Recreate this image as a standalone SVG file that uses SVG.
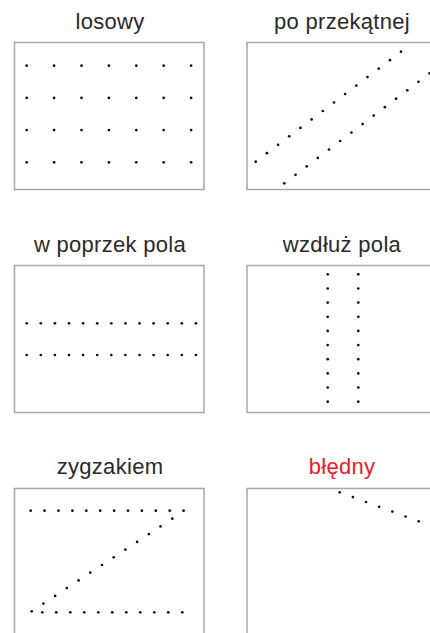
<svg xmlns="http://www.w3.org/2000/svg" width="430" height="633" viewBox="0 0 430 633">
<style>
.box{fill:#fff;stroke:#a8a8a8;stroke-width:1.5}
.t{font-family:"Liberation Sans",Arial,sans-serif;font-size:22px;letter-spacing:0.3px;fill:#2a2a2a;text-anchor:middle}
.err{fill:#e8202a}
.d{fill:#111}
</style>
<rect width="430" height="633" fill="#fff"/>
<g id="losowy">
<text class="t" x="110" y="29">losowy</text>
<rect class="box" x="14.5" y="42.5" width="189.5" height="147"/>
<g class="d">
<circle cx="26.7" cy="65.7" r="1.35"/><circle cx="54.1" cy="65.7" r="1.35"/><circle cx="81.5" cy="65.7" r="1.35"/><circle cx="108.9" cy="65.7" r="1.35"/><circle cx="136.3" cy="65.7" r="1.35"/><circle cx="163.7" cy="65.7" r="1.35"/><circle cx="191.1" cy="65.7" r="1.35"/>
<circle cx="26.7" cy="97.9" r="1.35"/><circle cx="54.1" cy="97.9" r="1.35"/><circle cx="81.5" cy="97.9" r="1.35"/><circle cx="108.9" cy="97.9" r="1.35"/><circle cx="136.3" cy="97.9" r="1.35"/><circle cx="163.7" cy="97.9" r="1.35"/><circle cx="191.1" cy="97.9" r="1.35"/>
<circle cx="26.7" cy="130.1" r="1.35"/><circle cx="54.1" cy="130.1" r="1.35"/><circle cx="81.5" cy="130.1" r="1.35"/><circle cx="108.9" cy="130.1" r="1.35"/><circle cx="136.3" cy="130.1" r="1.35"/><circle cx="163.7" cy="130.1" r="1.35"/><circle cx="191.1" cy="130.1" r="1.35"/>
<circle cx="26.7" cy="162.3" r="1.35"/><circle cx="54.1" cy="162.3" r="1.35"/><circle cx="81.5" cy="162.3" r="1.35"/><circle cx="108.9" cy="162.3" r="1.35"/><circle cx="136.3" cy="162.3" r="1.35"/><circle cx="163.7" cy="162.3" r="1.35"/><circle cx="191.1" cy="162.3" r="1.35"/>
</g>
</g>
<g id="po-przekatnej">
<text class="t" x="342" y="29">po przekątnej</text>
<rect class="box" x="247" y="42.5" width="190" height="147"/>
<g class="d">
<circle cx="255.7" cy="161.7" r="1.35"/><circle cx="266.9" cy="153.2" r="1.35"/><circle cx="278.1" cy="144.8" r="1.35"/><circle cx="289.2" cy="136.3" r="1.35"/><circle cx="300.4" cy="127.9" r="1.35"/><circle cx="311.6" cy="119.4" r="1.35"/><circle cx="322.8" cy="111.0" r="1.35"/><circle cx="334.0" cy="102.5" r="1.35"/><circle cx="345.1" cy="94.0" r="1.35"/><circle cx="356.3" cy="85.6" r="1.35"/><circle cx="367.5" cy="77.1" r="1.35"/><circle cx="378.7" cy="68.7" r="1.35"/><circle cx="389.9" cy="60.2" r="1.35"/><circle cx="401.0" cy="51.7" r="1.35"/>
<circle cx="284.3" cy="183.3" r="1.35"/><circle cx="295.5" cy="174.8" r="1.35"/><circle cx="306.7" cy="166.4" r="1.35"/><circle cx="317.8" cy="157.9" r="1.35"/><circle cx="329.0" cy="149.5" r="1.35"/><circle cx="340.2" cy="141.0" r="1.35"/><circle cx="351.4" cy="132.6" r="1.35"/><circle cx="362.6" cy="124.1" r="1.35"/><circle cx="373.7" cy="115.6" r="1.35"/><circle cx="384.9" cy="107.2" r="1.35"/><circle cx="396.1" cy="98.7" r="1.35"/><circle cx="407.3" cy="90.3" r="1.35"/><circle cx="418.5" cy="81.8" r="1.35"/><circle cx="429.6" cy="73.3" r="1.35"/>
</g>
</g>
<g id="w-poprzek-pola">
<text class="t" x="110" y="252">w poprzek pola</text>
<rect class="box" x="14.5" y="265.5" width="189.5" height="147"/>
<g class="d">
<circle cx="26.7" cy="323.3" r="1.35"/><circle cx="40.8" cy="323.3" r="1.35"/><circle cx="54.9" cy="323.3" r="1.35"/><circle cx="69.0" cy="323.3" r="1.35"/><circle cx="83.1" cy="323.3" r="1.35"/><circle cx="97.2" cy="323.3" r="1.35"/><circle cx="111.3" cy="323.3" r="1.35"/><circle cx="125.4" cy="323.3" r="1.35"/><circle cx="139.5" cy="323.3" r="1.35"/><circle cx="153.6" cy="323.3" r="1.35"/><circle cx="167.7" cy="323.3" r="1.35"/><circle cx="181.8" cy="323.3" r="1.35"/><circle cx="195.9" cy="323.3" r="1.35"/>
<circle cx="26.7" cy="355" r="1.35"/><circle cx="40.8" cy="355" r="1.35"/><circle cx="54.9" cy="355" r="1.35"/><circle cx="69.0" cy="355" r="1.35"/><circle cx="83.1" cy="355" r="1.35"/><circle cx="97.2" cy="355" r="1.35"/><circle cx="111.3" cy="355" r="1.35"/><circle cx="125.4" cy="355" r="1.35"/><circle cx="139.5" cy="355" r="1.35"/><circle cx="153.6" cy="355" r="1.35"/><circle cx="167.7" cy="355" r="1.35"/><circle cx="181.8" cy="355" r="1.35"/><circle cx="195.9" cy="355" r="1.35"/>
</g>
</g>
<g id="wzdluz-pola">
<text class="t" x="342" y="252">wzdłuż pola</text>
<rect class="box" x="247" y="265.5" width="190" height="147"/>
<g class="d">
<circle cx="327.7" cy="274.3" r="1.35"/><circle cx="327.7" cy="288.5" r="1.35"/><circle cx="327.7" cy="302.6" r="1.35"/><circle cx="327.7" cy="316.8" r="1.35"/><circle cx="327.7" cy="330.9" r="1.35"/><circle cx="327.7" cy="345.1" r="1.35"/><circle cx="327.7" cy="359.2" r="1.35"/><circle cx="327.7" cy="373.4" r="1.35"/><circle cx="327.7" cy="387.5" r="1.35"/><circle cx="327.7" cy="401.7" r="1.35"/>
<circle cx="358.3" cy="274.3" r="1.35"/><circle cx="358.3" cy="288.5" r="1.35"/><circle cx="358.3" cy="302.6" r="1.35"/><circle cx="358.3" cy="316.8" r="1.35"/><circle cx="358.3" cy="330.9" r="1.35"/><circle cx="358.3" cy="345.1" r="1.35"/><circle cx="358.3" cy="359.2" r="1.35"/><circle cx="358.3" cy="373.4" r="1.35"/><circle cx="358.3" cy="387.5" r="1.35"/><circle cx="358.3" cy="401.7" r="1.35"/>
</g>
</g>
<g id="zygzakiem">
<text class="t" x="110" y="474">zygzakiem</text>
<rect class="box" x="14.5" y="488.5" width="189.5" height="147"/>
<g class="d">
<circle cx="30.7" cy="510.7" r="1.35"/><circle cx="44.6" cy="510.7" r="1.35"/><circle cx="58.5" cy="510.7" r="1.35"/><circle cx="72.4" cy="510.7" r="1.35"/><circle cx="86.3" cy="510.7" r="1.35"/><circle cx="100.2" cy="510.7" r="1.35"/><circle cx="114.1" cy="510.7" r="1.35"/><circle cx="128.0" cy="510.7" r="1.35"/><circle cx="141.9" cy="510.7" r="1.35"/><circle cx="155.8" cy="510.7" r="1.35"/><circle cx="169.7" cy="510.7" r="1.35"/><circle cx="183.6" cy="510.7" r="1.35"/>
<circle cx="172.3" cy="518.7" r="1.35"/><circle cx="160.6" cy="526.4" r="1.35"/><circle cx="148.9" cy="534.1" r="1.35"/><circle cx="137.1" cy="541.9" r="1.35"/><circle cx="125.4" cy="549.6" r="1.35"/><circle cx="113.7" cy="557.3" r="1.35"/><circle cx="102.0" cy="565.0" r="1.35"/><circle cx="90.3" cy="572.7" r="1.35"/><circle cx="78.6" cy="580.4" r="1.35"/><circle cx="66.8" cy="588.1" r="1.35"/><circle cx="55.1" cy="595.9" r="1.35"/><circle cx="43.4" cy="603.6" r="1.35"/><circle cx="31.7" cy="611.3" r="1.35"/>
<circle cx="42.3" cy="612.3" r="1.35"/><circle cx="56.3" cy="612.3" r="1.35"/><circle cx="70.3" cy="612.3" r="1.35"/><circle cx="84.3" cy="612.3" r="1.35"/><circle cx="98.3" cy="612.3" r="1.35"/><circle cx="112.3" cy="612.3" r="1.35"/><circle cx="126.3" cy="612.3" r="1.35"/><circle cx="140.3" cy="612.3" r="1.35"/><circle cx="154.3" cy="612.3" r="1.35"/><circle cx="168.3" cy="612.3" r="1.35"/><circle cx="182.3" cy="612.3" r="1.35"/>
</g>
</g>
<g id="bledny">
<text class="t err" x="342" y="474">błędny</text>
<rect class="box" x="247" y="488.5" width="190" height="147"/>
<g class="d">
<circle cx="339.7" cy="492.3" r="1.35"/><circle cx="352.9" cy="497.1" r="1.35"/><circle cx="366.0" cy="502.0" r="1.35"/><circle cx="379.2" cy="506.8" r="1.35"/><circle cx="392.4" cy="511.6" r="1.35"/><circle cx="405.6" cy="516.5" r="1.35"/><circle cx="418.7" cy="521.3" r="1.35"/>
</g>
</g>
<g id="connectors"/>
</svg>
